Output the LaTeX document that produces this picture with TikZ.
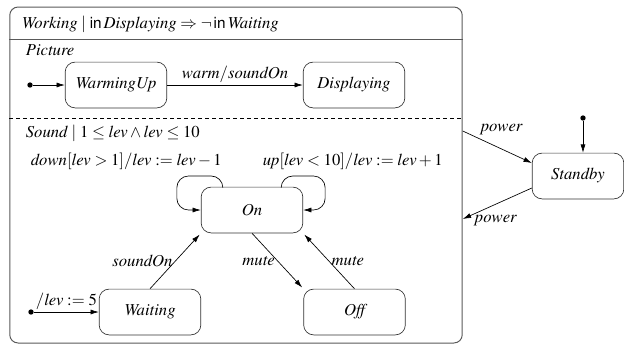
\documentclass[tikz,border=0pt]{standalone}
\usepackage[T1]{fontenc}
\usepackage{mathptmx}
\usepackage[scaled=0.92]{helvet}
\usepackage{tikz}
\usetikzlibrary{arrows.meta, positioning, calc}

\begin{document}
\begin{tikzpicture}[
    x=0.6pt, y=-0.6pt,
    every node/.style={font=\normalsize},
    state/.style={rectangle, draw=black!80, rounded corners=6pt, minimum width=61pt,
                  minimum height=27.5pt, font=\normalsize\itshape},
    region/.style={rectangle, draw=black!65, line width=0.6pt, rounded corners=5pt,
                   minimum width=271.5pt, minimum height=201.6pt},
    initdot/.style={circle, fill, inner sep=0pt, minimum size=3.2pt},
    arrow/.style={-{Latex[length=5pt,width=3pt]}},
    lbl/.style={inner sep=1.5pt}
]
    \useasboundingbox (0,0) rectangle (624,346);

    \node[region] (working) at (236,175) {};
    \node[anchor=base west] (wlabel) at (16,28)
        {$\mathit{Working}\mid\textsf{in}\,\mathit{Displaying}\Rightarrow\neg\,\textsf{in}\,\mathit{Waiting}$};
    \draw[draw=black!65] ($(working.north west)+(0,33)$) -- ($(working.north east)+(0,33)$);
    \draw[dash pattern=on 2.2pt off 2pt] ($(working.north west)+(0,112)$) -- ($(working.north east)+(0,112)$);

    \node[anchor=base west] (picture) at (20,55) {\textit{Picture}};
    \node[initdot] (ip) at (30,85) {};
    \node[state] (warmingup) at (116,85) {WarmingUp};
    \node[state] (displaying) at (354,85) {Displaying};
    \draw[arrow] (ip) -- (warmingup);
    \draw[arrow] (warmingup) -- node[above, lbl] {$\mathit{warm}/\mathit{soundOn}$} (displaying);

    \node[anchor=base west] (sound) at (20,137) {$\mathit{Sound}\mid 1\le\mathit{lev}\wedge\mathit{lev}\le 10$};
    \node[state] (on) at (252,210) {On};
    \node[state] (waiting) at (150,312) {Waiting};
    \node[state] (off) at (354.5,312) {Off};
    \node[initdot] (is) at (31,312) {};

    \node[anchor=base west] (downlbl) at (25,165) {$\mathit{down}[\mathit{lev}>1]/\mathit{lev}:=\mathit{lev}-1$};
    \node[anchor=base west] (uplbl) at (257,165) {$\mathit{up}[\mathit{lev}<10]/\mathit{lev}:=\mathit{lev}+1$};
    \draw[arrow, rounded corners=7pt] ($(on.north west)+(22,0)$) |- ($(on.west)+(-24,-34)$) |- (on.west);
    \draw[arrow, rounded corners=7pt] ($(on.north east)+(-22,0)$) |- ($(on.east)+(22,-34)$) |- (on.east);

    \draw[arrow] (is) -- node[above, lbl] {$/\mathit{lev}:=5$} (waiting);
    \draw[arrow, shorten >=1pt] (waiting.north) -- node[left, lbl] {\textit{soundOn}} (on.south west);
    \draw[arrow, shorten >=1pt] (on.south) -- node[left, lbl] {\textit{mute}} (off.north west);
    \draw[arrow, shorten >=1pt] (off.north) -- node[right, lbl] {\textit{mute}} (on.south east);

    \node[state, minimum width=55pt] (standby) at (578,176) {Standby};
    \node[initdot] (isb) at (583,118) {};
    \draw[arrow] (isb) -- (isb |- standby.north);

    \coordinate (pwa) at (working.east |- 0,131);
    \coordinate (pwb) at (working.east |- 0,219);
    \draw[arrow] (pwa) -- node[pos=0.22, above right, lbl] {\textit{power}} ($(standby.west)+(0,-13)$);
    \draw[arrow] ($(standby.west)+(0,12)$) -- node[pos=0.84, below right, inner sep=0.5pt] {\textit{power}} (pwb);
\end{tikzpicture}
\end{document}
